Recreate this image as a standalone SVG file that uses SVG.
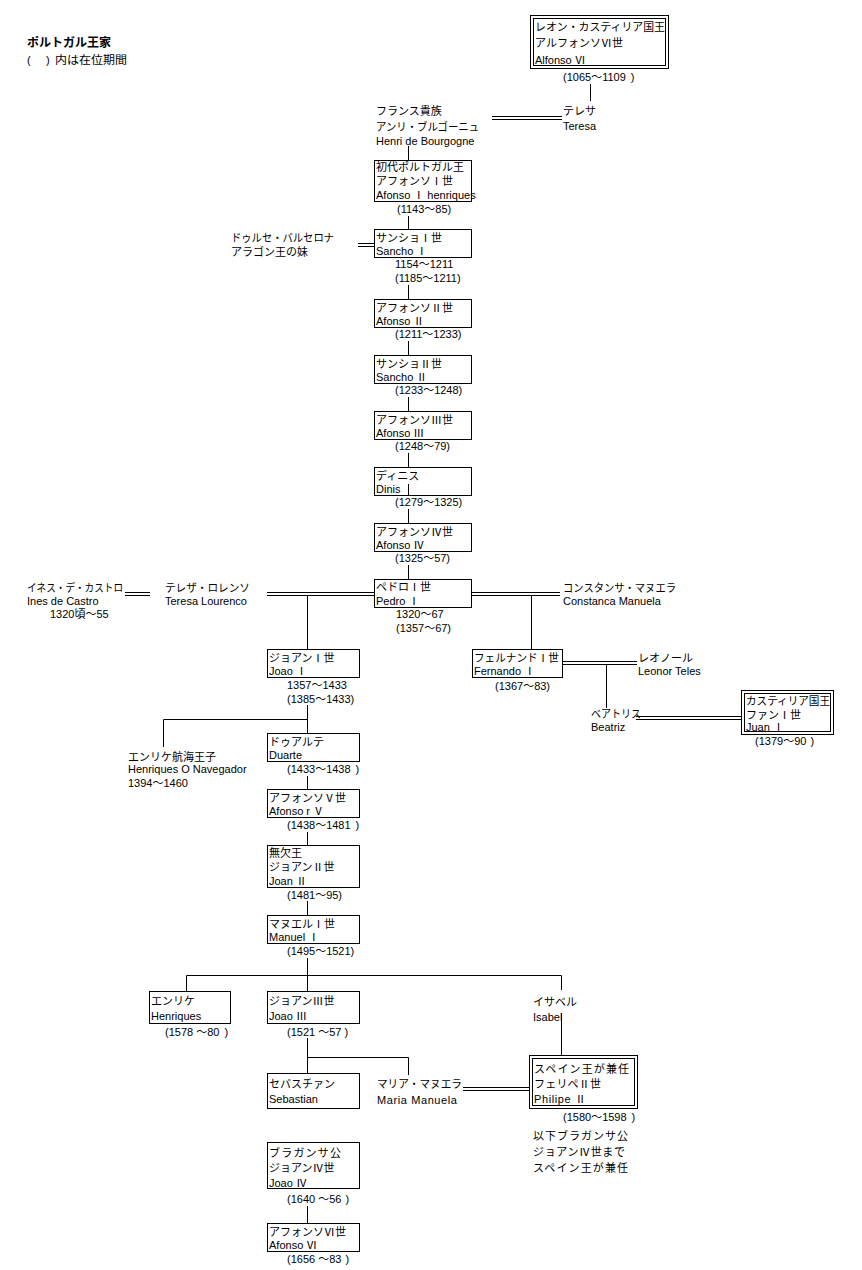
<svg xmlns="http://www.w3.org/2000/svg" width="862" height="1270" viewBox="0 0 862 1270">
<style>
.j{font-family:"Noto Sans CJK JP",sans-serif;font-size:11px;fill:#000}
.l{font-family:"Liberation Sans","Noto Sans CJK JP",sans-serif;font-size:11px;fill:#000}
.t{font-family:"Noto Sans CJK JP",sans-serif;font-size:12px;font-weight:bold;fill:#000}
.b{fill:#fff;stroke:#000;stroke-width:1}
#connectors line{stroke:#000;stroke-width:1;fill:none}
</style>
<rect width="862" height="1270" fill="#fff"/>
<g id="title">
<text class="t" x="27" y="47">ポルトガル王家</text>
<text class="l" x="27" y="64">(<tspan class="j">　</tspan><tspan x="46">)</tspan><tspan class="j" x="55" textLength="72" lengthAdjust="spacingAndGlyphs">内は在位期間</tspan></text>
</g>
<g id="connectors">
<line x1="590.5" y1="84" x2="590.5" y2="101"/>
<line x1="492" y1="116.5" x2="562" y2="116.5"/><line x1="492" y1="119.5" x2="562" y2="119.5"/>
<line x1="408.5" y1="146" x2="408.5" y2="160"/>
<line x1="408.5" y1="216" x2="408.5" y2="229"/>
<line x1="358" y1="243.5" x2="374" y2="243.5"/><line x1="358" y1="246.5" x2="374" y2="246.5"/>
<line x1="408.5" y1="285" x2="408.5" y2="299"/>
<line x1="408.5" y1="341" x2="408.5" y2="355"/>
<line x1="408.5" y1="397" x2="408.5" y2="411"/>
<line x1="408.5" y1="453" x2="408.5" y2="467"/>
<line x1="408.5" y1="509" x2="408.5" y2="523"/>
<line x1="408.5" y1="565" x2="408.5" y2="579"/>
<line x1="267" y1="592.5" x2="374" y2="592.5"/><line x1="267" y1="595.5" x2="374" y2="595.5"/>
<line x1="125" y1="592.5" x2="150" y2="592.5"/><line x1="125" y1="595.5" x2="150" y2="595.5"/>
<line x1="471" y1="592.5" x2="560" y2="592.5"/><line x1="471" y1="595.5" x2="560" y2="595.5"/>
<line x1="307.5" y1="596" x2="307.5" y2="649"/>
<line x1="531.5" y1="596" x2="531.5" y2="649"/>
<line x1="562" y1="661.5" x2="637" y2="661.5"/><line x1="562" y1="664.5" x2="637" y2="664.5"/>
<line x1="606.5" y1="665" x2="606.5" y2="708"/>
<line x1="636" y1="716.5" x2="741" y2="716.5"/><line x1="636" y1="719.5" x2="741" y2="719.5"/>
<line x1="307.5" y1="705" x2="307.5" y2="733"/>
<line x1="163.5" y1="719.5" x2="307.5" y2="719.5"/>
<line x1="163.5" y1="719.5" x2="163.5" y2="747"/>
<line x1="307.5" y1="776" x2="307.5" y2="789"/>
<line x1="307.5" y1="832" x2="307.5" y2="845"/>
<line x1="307.5" y1="901" x2="307.5" y2="915"/>
<line x1="307.5" y1="958" x2="307.5" y2="991"/>
<line x1="186.5" y1="975.5" x2="561.5" y2="975.5"/>
<line x1="186.5" y1="975.5" x2="186.5" y2="991"/>
<line x1="561.5" y1="975.5" x2="561.5" y2="990"/>
<line x1="561.5" y1="1013" x2="561.5" y2="1055"/>
<line x1="307.5" y1="1038" x2="307.5" y2="1073"/>
<line x1="307.5" y1="1057.5" x2="408.5" y2="1057.5"/>
<line x1="408.5" y1="1057.5" x2="408.5" y2="1075"/>
<line x1="463" y1="1087.5" x2="529" y2="1087.5"/><line x1="463" y1="1090.5" x2="529" y2="1090.5"/>
<line x1="307.5" y1="1206" x2="307.5" y2="1223"/>
</g>
<g id="alfonso6">
<rect class="b" x="530.5" y="15.5" width="138" height="53"/>
<rect class="b" x="533.5" y="18.5" width="132" height="47"/>
<text class="j" x="535" y="31" textLength="130" lengthAdjust="spacingAndGlyphs">レオン・カスティリア国王</text>
<text class="j" x="535" y="47">アルフォンソⅥ世</text>
<text class="l" x="535" y="64">Alfonso Ⅵ</text>
<text class="l" x="563" y="81">(1065～1109<tspan dx="5">)</tspan></text>
</g>
<g id="teresa">
<text class="j" x="563" y="115">テレサ</text>
<text class="l" x="563" y="130">Teresa</text>
</g>
<g id="henri">
<text class="j" x="376" y="115">フランス貴族</text>
<text class="j" x="376" y="131" textLength="103" lengthAdjust="spacingAndGlyphs">アンリ・ブルゴーニュ</text>
<text class="l" x="376" y="145">Henri de Bourgogne</text>
</g>
<g id="afonso1">
<rect class="b" x="374.5" y="160.5" width="97" height="41"/>
<text class="j" x="376" y="171">初代ポルトガル王</text>
<text class="j" x="376" y="185">アフォンソⅠ世</text>
<text class="l" x="376" y="199">Afonso  Ⅰ henriques</text>
<text class="l" x="397" y="213">(1143～85)</text>
</g>
<g id="sancho1">
<rect class="b" x="374.5" y="229.5" width="97" height="28"/>
<text class="j" x="376" y="242">サンショⅠ世</text>
<text class="l" x="376" y="255">Sancho Ⅰ</text>
<text class="l" x="395" y="268">1154～1211</text>
<text class="l" x="395" y="282">(1185～1211)</text>
</g>
<g id="dulce">
<text class="j" x="231" y="242" textLength="103" lengthAdjust="spacingAndGlyphs">ドゥルセ・バルセロナ</text>
<text class="j" x="231" y="256">アラゴン王の妹</text>
</g>
<g id="afonso2">
<rect class="b" x="374.5" y="299.5" width="97" height="28"/>
<text class="j" x="376" y="312">アフォンソⅡ世</text>
<text class="l" x="376" y="325">Afonso Ⅱ</text>
<text class="l" x="395" y="338">(1211～1233)</text>
</g>
<g id="sancho2">
<rect class="b" x="374.5" y="355.5" width="97" height="28"/>
<text class="j" x="376" y="368">サンショⅡ世</text>
<text class="l" x="376" y="381">Sancho Ⅱ</text>
<text class="l" x="395" y="394">(1233～1248)</text>
</g>
<g id="afonso3">
<rect class="b" x="374.5" y="411.5" width="97" height="28"/>
<text class="j" x="376" y="424">アフォンソⅢ世</text>
<text class="l" x="376" y="437">Afonso Ⅲ</text>
<text class="l" x="395" y="450">(1248～79)</text>
</g>
<g id="dinis">
<rect class="b" x="374.5" y="467.5" width="97" height="28"/>
<line x1="408.5" y1="484" x2="408.5" y2="495" stroke="#000"/>
<text class="j" x="376" y="480">ディニス</text>
<text class="l" x="376" y="493">Dinis</text>
<text class="l" x="395" y="506">(1279～1325)</text>
</g>
<g id="afonso4">
<rect class="b" x="374.5" y="523.5" width="97" height="28"/>
<text class="j" x="376" y="536">アフォンソⅣ世</text>
<text class="l" x="376" y="549">Afonso Ⅳ</text>
<text class="l" x="395" y="562">(1325～57)</text>
</g>
<g id="pedro1">
<rect class="b" x="374.5" y="579.5" width="97" height="28"/>
<text class="j" x="376" y="591">ペドロⅠ世</text>
<text class="l" x="376" y="605">Pedro Ⅰ</text>
<text class="l" x="396" y="618">1320～67</text>
<text class="l" x="396" y="632">(1357～67)</text>
</g>
<g id="ines">
<text class="j" x="27" y="592" textLength="96" lengthAdjust="spacingAndGlyphs">イネス・デ・カストロ</text>
<text class="l" x="27" y="605">Ines de Castro</text>
<text class="l" x="50" y="618">1320頃～55</text>
</g>
<g id="teresa-lourenco">
<text class="j" x="165" y="592" textLength="85" lengthAdjust="spacingAndGlyphs">テレザ・ロレンソ</text>
<text class="l" x="165" y="605">Teresa Lourenco</text>
</g>
<g id="constanca">
<text class="j" x="563" y="592" textLength="113" lengthAdjust="spacingAndGlyphs">コンスタンサ・マヌエラ</text>
<text class="l" x="563" y="605">Constanca Manuela</text>
</g>
<g id="joao1">
<rect class="b" x="267.5" y="649.5" width="92" height="28"/>
<text class="j" x="269" y="662">ジョアンⅠ世</text>
<text class="l" x="269" y="675">Joao Ⅰ</text>
<text class="l" x="287" y="689">1357～1433</text>
<text class="l" x="287" y="703">(1385～1433)</text>
</g>
<g id="fernando1">
<rect class="b" x="472.5" y="649.5" width="90" height="28"/>
<text class="j" x="474" y="662" textLength="85" lengthAdjust="spacingAndGlyphs">フェルナンドⅠ世</text>
<text class="l" x="474" y="675">Fernando Ⅰ</text>
<text class="l" x="495" y="690">(1367～83)</text>
</g>
<g id="leonor">
<text class="j" x="638" y="662">レオノール</text>
<text class="l" x="638" y="675">Leonor Teles</text>
</g>
<g id="beatriz">
<text class="j" x="591" y="718" textLength="50" lengthAdjust="spacingAndGlyphs">ベアトリス</text>
<text class="l" x="591" y="731">Beatriz</text>
</g>
<g id="juan1">
<rect class="b" x="741.5" y="690.5" width="92" height="44"/>
<rect class="b" x="744.5" y="693.5" width="86" height="38"/>
<text class="j" x="746" y="705" textLength="84" lengthAdjust="spacingAndGlyphs">カスティリア国王</text>
<text class="j" x="746" y="719">ファンⅠ世</text>
<text class="l" x="746" y="731">Juan Ⅰ</text>
<text class="l" x="755" y="745">(1379～90<tspan dx="4">)</tspan></text>
</g>
<g id="henriques-navegador">
<text class="j" x="128" y="761">エンリケ航海王子</text>
<text class="l" x="128" y="773">Henriques O Navegador</text>
<text class="l" x="128" y="787">1394～1460</text>
</g>
<g id="duarte">
<rect class="b" x="267.5" y="733.5" width="92" height="28"/>
<text class="j" x="269" y="746">ドゥアルテ</text>
<text class="l" x="269" y="759">Duarte</text>
<text class="l" x="287" y="773">(1433～1438<tspan dx="5">)</tspan></text>
</g>
<g id="afonso5">
<rect class="b" x="267.5" y="789.5" width="92" height="28"/>
<text class="j" x="269" y="802">アフォンソⅤ世</text>
<text class="l" x="269" y="815">Afonso r Ⅴ</text>
<text class="l" x="287" y="829">(1438～1481<tspan dx="5">)</tspan></text>
</g>
<g id="joan2">
<rect class="b" x="267.5" y="845.5" width="92" height="42"/>
<text class="j" x="269" y="857">無欠王</text>
<text class="j" x="269" y="871">ジョアンⅡ世</text>
<text class="l" x="269" y="885">Joan Ⅱ</text>
<text class="l" x="287" y="899">(1481～95)</text>
</g>
<g id="manuel1">
<rect class="b" x="267.5" y="915.5" width="92" height="28"/>
<text class="j" x="269" y="928">マヌエルⅠ世</text>
<text class="l" x="269" y="941">Manuel Ⅰ</text>
<text class="l" x="287" y="955">(1495～1521)</text>
</g>
<g id="henriques">
<rect class="b" x="149.5" y="991.5" width="81" height="32"/>
<text class="j" x="151" y="1005">エンリケ</text>
<text class="l" x="151" y="1020">Henriques</text>
<text class="l" x="165" y="1036">(1578<tspan dx="3">～</tspan>80<tspan dx="5">)</tspan></text>
</g>
<g id="joao3">
<rect class="b" x="267.5" y="991.5" width="92" height="32"/>
<text class="j" x="269" y="1005">ジョアンⅢ世</text>
<text class="l" x="269" y="1020">Joao Ⅲ</text>
<text class="l" x="287" y="1036">(1521<tspan dx="3">～</tspan>57<tspan dx="3">)</tspan></text>
</g>
<g id="isabel">
<text class="j" x="533" y="1006">イサベル</text>
<text class="l" x="533" y="1021">Isabel</text>
</g>
<g id="sebastian">
<rect class="b" x="267.5" y="1073.5" width="92" height="35"/>
<text class="j" x="269" y="1088">セバスチァン</text>
<text class="l" x="269" y="1103">Sebastian</text>
</g>
<g id="maria">
<text class="j" x="377" y="1088" textLength="85" lengthAdjust="spacingAndGlyphs">マリア・マヌエラ</text>
<text class="l" x="377" y="1104" letter-spacing="0.6">Maria Manuela</text>
</g>
<g id="philipe2">
<rect class="b" x="529.5" y="1055.5" width="108" height="53"/>
<rect class="b" x="532.5" y="1058.5" width="102" height="47"/>
<text class="j" x="534" y="1073" textLength="95" lengthAdjust="spacing">スペイン王が兼任</text>
<text class="j" x="534" y="1088" textLength="67" lengthAdjust="spacing">フェリペⅡ世</text>
<text class="l" x="534" y="1103" letter-spacing="0.6">Philipe Ⅱ</text>
<text class="l" x="563" y="1121">(1580～1598<tspan dx="5">)</tspan></text>
</g>
<g id="note">
<text class="j" x="533" y="1140" textLength="95" lengthAdjust="spacing">以下ブラガンサ公</text>
<text class="j" x="533" y="1156" textLength="92" lengthAdjust="spacing">ジョアンⅣ世まで</text>
<text class="j" x="533" y="1172" textLength="95" lengthAdjust="spacing">スペイン王が兼任</text>
</g>
<g id="joao4">
<rect class="b" x="267.5" y="1142.5" width="92" height="46"/>
<text class="j" x="269" y="1157" textLength="72" lengthAdjust="spacing">ブラガンサ公</text>
<text class="j" x="269" y="1172">ジョアンⅣ世</text>
<text class="l" x="269" y="1187">Joao Ⅳ</text>
<text class="l" x="287" y="1203">(1640<tspan dx="3">～</tspan>56<tspan dx="4">)</tspan></text>
</g>
<g id="afonso6">
<rect class="b" x="267.5" y="1223.5" width="92" height="28"/>
<text class="j" x="269" y="1236">アフォンソⅥ世</text>
<text class="l" x="269" y="1249">Afonso Ⅵ</text>
<text class="l" x="287" y="1263">(1656<tspan dx="3">～</tspan>83<tspan dx="4">)</tspan></text>
</g>
</svg>
